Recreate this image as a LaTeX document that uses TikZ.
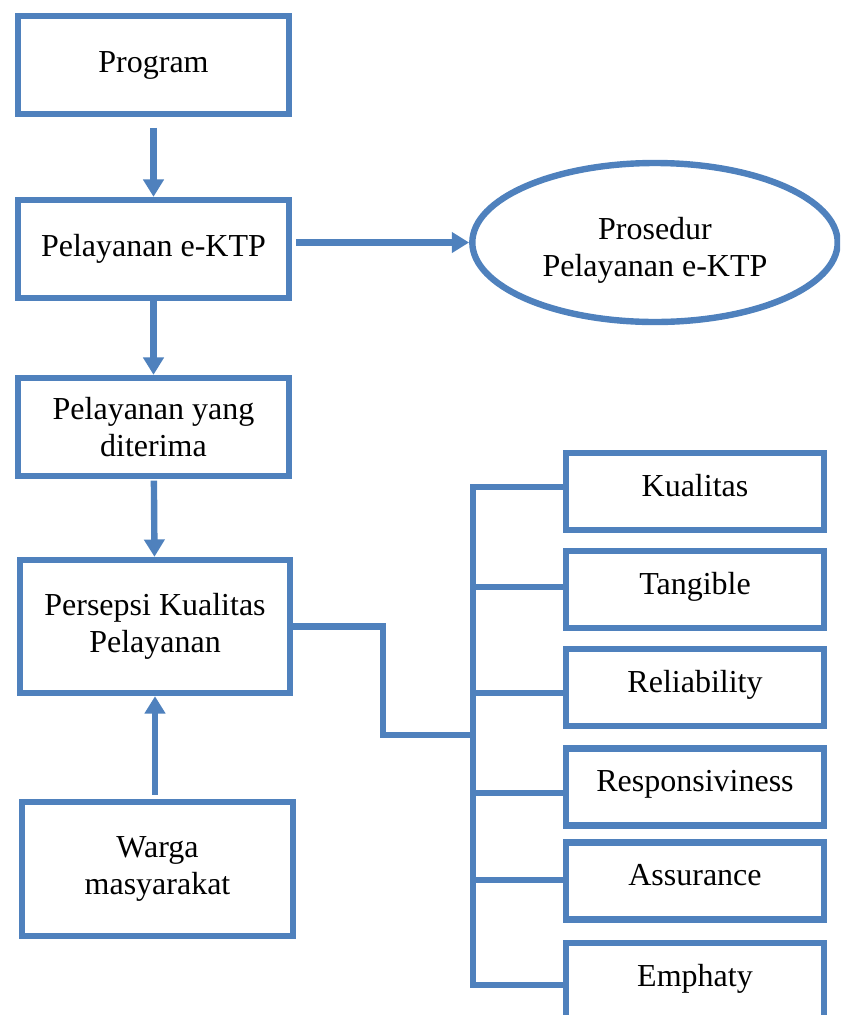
\documentclass[tikz,border=0pt]{standalone}
\usepackage{fontspec}
\setmainfont{Liberation Serif}
\usetikzlibrary{arrows.meta,shapes.geometric}
\definecolor{bl}{RGB}{79,129,189}
\begin{document}
\begin{tikzpicture}[x=0.75pt,y=-0.75pt,
  txt/.style={font=\fontsize{24pt}{28pt}\selectfont, text=black, align=center},
  box/.style={txt, draw=bl, line width=4.8pt, rectangle, inner sep=0pt},
  lbox/.style={box, minimum width=203.25pt, minimum height=73.5pt},
  rbox/.style={box, minimum width=193.5pt, minimum height=57.5pt, text height=17pt, text depth=10pt},
  conn/.style={draw=bl, line width=4.8pt},
  arr/.style={conn, -{Triangle[width=15pt,length=13pt]}}]
\clip (0,0) rectangle (840,1015);
% left column
\node[lbox] (prog) at (153.5,65) {Program};
\node[lbox] (ektp) at (153.5,249) {Pelayanan e-KTP};
\node[lbox] (dit) at (153.5,427) {Pelayanan yang\\diterima};
\node[lbox, minimum width=202.5pt, minimum height=99.75pt] (pers) at (155,626.5) {Persepsi Kualitas\\Pelayanan};
\node[lbox, minimum height=100.5pt] (warga) at (157.5,869) {Warga\\masyarakat};
% ellipse
\node[txt, draw=bl, line width=4.8pt, ellipse, inner sep=0pt, minimum width=274pt, minimum height=119.25pt, text height=56pt, text depth=5pt] (ell) at (655,242.5) {Prosedur\\Pelayanan e-KTP};
% right column
\node[rbox] (kual) at (695,491.5) {Kualitas};
\node[rbox] (tang) at (695,589.5) {Tangible};
\node[rbox] (rel)  at (695,687.5) {Reliability};
\node[rbox] (resp) at (695,787) {Responsiviness};
\node[rbox] (assu) at (695,881) {Assurance};
\node[rbox] (emph) at (695,981.5) {Emphaty};
% arrows
\draw[arr, shorten <=8pt] (prog) -- (ektp);
\draw[arr] (ektp) -- (dit);
\draw[arr, shorten <=1pt] (dit) -- (pers);
\draw[arr, shorten <=3pt] (pers.south |- warga.north) -- (pers.south);
\draw[arr, shorten <=3pt] (ektp.east |- ell.west) -- (ell.west);
% tree connector
\coordinate (j1) at (383,735);
\coordinate (t1) at (473,487);
\coordinate (t2) at (473,587);
\coordinate (t3) at (473,693);
\coordinate (t4) at (473,793);
\coordinate (t5) at (473,880);
\coordinate (t6) at (473,985);
\draw[conn] (pers.east) -| (j1) -- (j1 -| t1);
\draw[conn] (t1 -| kual.west) -- (t1) -- (t6) -- (t6 -| emph.west);
\draw[conn] (t2) -- (t2 -| tang.west);
\draw[conn] (t3) -- (t3 -| rel.west);
\draw[conn] (t4) -- (t4 -| resp.west);
\draw[conn] (t5) -- (t5 -| assu.west);
\end{tikzpicture}
\end{document}
